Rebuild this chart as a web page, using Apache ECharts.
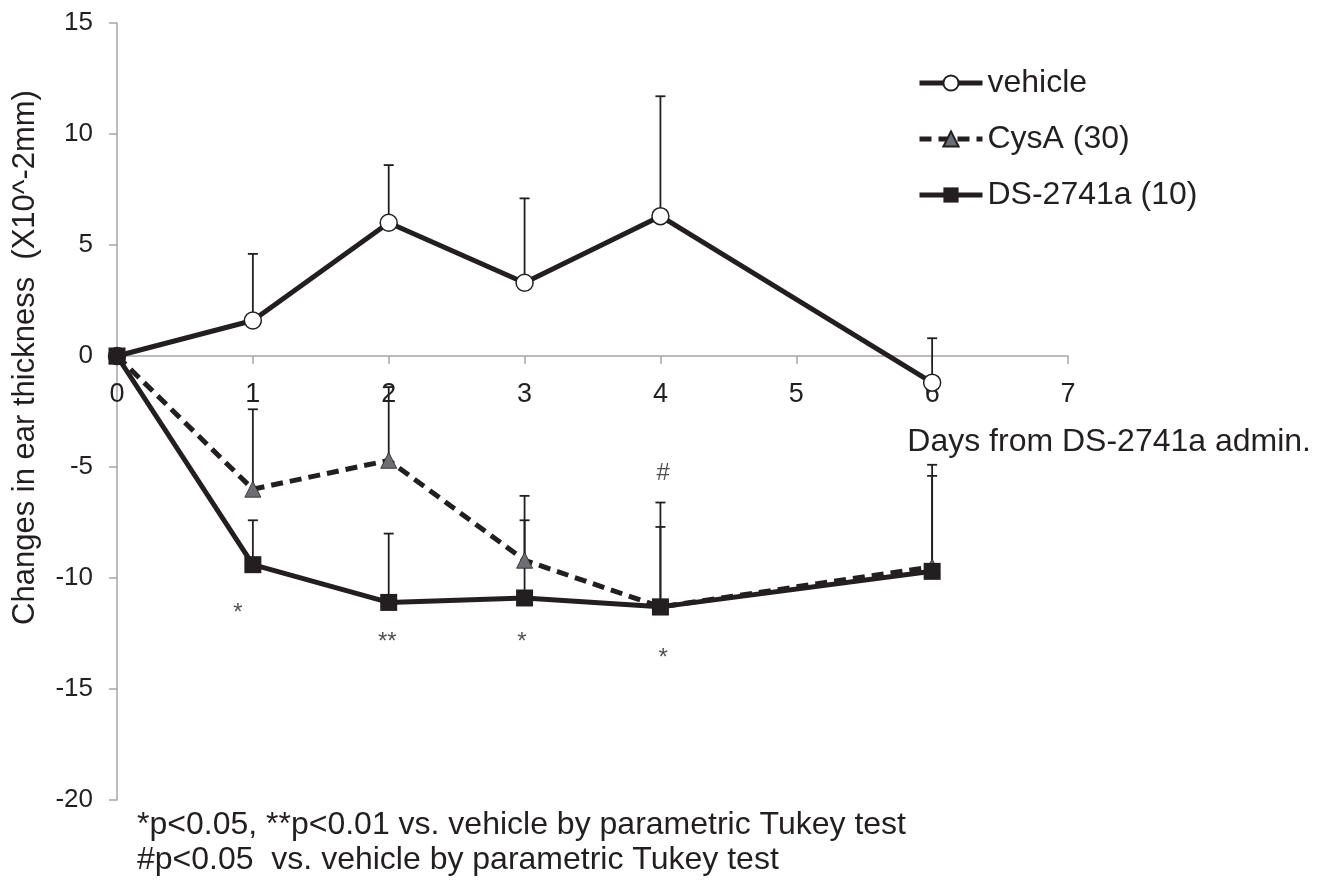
<!DOCTYPE html>
<html><head><meta charset="utf-8">
<script src="https://cdn.jsdelivr.net/npm/echarts@6/dist/echarts.min.js"></script>
<style>html,body{margin:0;padding:0;background:#fff}#c{width:1319px;height:881px}</style>
</head><body><div id="c"></div>
<script>
// ---- data ----
const days = [0, 1, 2, 3, 4, 6];
const vehicle = [0, 1.6, 6.0, 3.3, 6.3, -1.2];
const vehicleErr = [0, 3.0, 2.6, 3.8, 5.4, 2.0];
const cysa = [0, -6.0, -4.7, -9.2, -11.3, -9.5];
const cysaErr = [0, 3.6, 3.3, 2.9, 4.7, 4.6];
const ds = [0, -9.4, -11.1, -10.9, -11.3, -9.7];
const dsErr = [0, 2.0, 3.1, 3.5, 3.6, 4.3];
const seriesNames = ['vehicle', 'CysA (30)', 'DS-2741a (10)'];
// significance marks (data coordinates)
const sigX = [0.89, 1.99, 2.98, 4.02, 4.02];
const sigY = [-11.6, -12.9, -12.9, -5.3, -13.6];
const sigText = ['*', '**', '*', '#', '*'];
const footnotes = [
  '*p<0.05, **p<0.01 vs. vehicle by parametric Tukey test',
  '#p<0.05  vs. vehicle by parametric Tukey test'
];
const X_MIN = 0, X_MAX = 7, X_STEP = 1;
const Y_MIN = -20, Y_MAX = 15, Y_STEP = 5;

const FONT = '"Liberation Sans", Arial, sans-serif';
const INK = '#231f20';
const AXIS = '#a6a6a6';
const G = { left: 117, right: 251, top: 23, bottom: 81 };
const plotH = 881 - G.top - G.bottom;
// x axis crosses the y axis at value 0
const xAxisOffset = -plotH * (0 - Y_MIN) / (Y_MAX - Y_MIN);

function pts(vals) { return days.map((d, i) => [d, vals[i]]); }
function errSeries(vals, errs) {
  return {
    type: 'custom', z: 1, silent: true,
    encode: { x: 0, y: [1, 2] },
    data: days.map((d, i) => [d, vals[i], vals[i] + errs[i]]).filter((r, i) => errs[i] > 0),
    renderItem(params, api) {
      const p0 = api.coord([api.value(0), api.value(1)]);
      const p1 = api.coord([api.value(0), api.value(2)]);
      const hw = 5;
      return {
        type: 'group', children: [
          { type: 'line', shape: { x1: p0[0], y1: p0[1], x2: p1[0], y2: p1[1] }, style: { stroke: INK, lineWidth: 1.8 } },
          { type: 'line', shape: { x1: p1[0] - hw, y1: p1[1], x2: p1[0] + hw, y2: p1[1] }, style: { stroke: INK, lineWidth: 1.8 } }
        ]
      };
    }
  };
}

const chart = echarts.init(document.getElementById('c'), null, { renderer: 'canvas' });
chart.setOption({
  animation: false,
  backgroundColor: '#fff',
  textStyle: { fontFamily: FONT, color: INK },
  grid: Object.assign({ containLabel: false, outerBoundsMode: 'none' }, G),
  legend: {
    data: seriesNames,
    orient: 'vertical', left: 917, top: 67, padding: 0,
    itemWidth: 63, itemHeight: 19, itemGap: 24,
    lineStyle: { width: 5 },
    textStyle: { fontSize: 32, fontFamily: FONT, color: INK }
  },
  xAxis: {
    type: 'value', min: X_MIN, max: X_MAX, interval: X_STEP,
    position: 'bottom', offset: xAxisOffset,
    axisLine: { onZero: false, lineStyle: { color: AXIS, width: 1.5 } },
    axisTick: { show: true, length: 8, lineStyle: { color: AXIS, width: 1.5 } },
    axisLabel: { margin: 25, fontSize: 27, color: INK, fontFamily: FONT, hideOverlap: false },
    splitLine: { show: false },
    name: 'Days from DS-2741a admin.', nameLocation: 'end', nameGap: 243,
    nameTextStyle: { fontSize: 32, align: 'right', verticalAlign: 'top', padding: [70, 0, 0, 0], color: INK, fontFamily: FONT }
  },
  yAxis: {
    type: 'value', min: Y_MIN, max: Y_MAX, interval: Y_STEP,
    axisLine: { show: true, onZero: false, lineStyle: { color: AXIS, width: 1.5 } },
    axisTick: { show: true, length: 8, lineStyle: { color: AXIS, width: 1.5 } },
    axisLabel: { margin: 24, fontSize: 26, color: INK, fontFamily: FONT },
    splitLine: { show: false },
    name: 'Changes in ear thickness  (X10^-2mm)', nameLocation: 'middle', nameGap: 76,
    nameTextStyle: { fontSize: 31, padding: [0, 0, 0, 108], color: INK, fontFamily: FONT }
  },
  graphic: [{
    type: 'text', left: 137, top: 808,
    style: { text: footnotes.join('\n'), font: '32px ' + FONT, lineHeight: 35, fill: INK }
  }],
  series: [
    errSeries(vehicle, vehicleErr),
    errSeries(cysa, cysaErr),
    errSeries(ds, dsErr),
    {
      name: seriesNames[0], type: 'line', data: pts(vehicle), z: 3,
      symbol: 'circle', symbolSize: 17, showAllSymbol: true,
      lineStyle: { color: INK, width: 5 },
      itemStyle: { color: '#fff', borderColor: INK, borderWidth: 1.5 }
    },
    {
      name: seriesNames[1], type: 'line', data: pts(cysa), z: 4,
      symbol: 'triangle', symbolSize: 16, showAllSymbol: true,
      lineStyle: { color: INK, width: 5, type: [12, 7] },
      itemStyle: { color: '#6d6e71', borderColor: INK, borderWidth: 0.8 }
    },
    {
      name: seriesNames[2], type: 'line', data: pts(ds), z: 5,
      symbol: 'rect', symbolSize: 17, showAllSymbol: true,
      lineStyle: { color: INK, width: 5 },
      itemStyle: { color: INK }
    },
    {
      type: 'scatter', z: 6, silent: true, symbolSize: 1,
      itemStyle: { color: 'rgba(0,0,0,0)' },
      data: sigX.map((x, i) => [x, sigY[i], sigText[i]]),
      label: { show: true, position: 'inside', formatter: p => p.data[2], fontSize: 24, color: INK, fontFamily: FONT }
    }
  ]
});
</script></body></html>
